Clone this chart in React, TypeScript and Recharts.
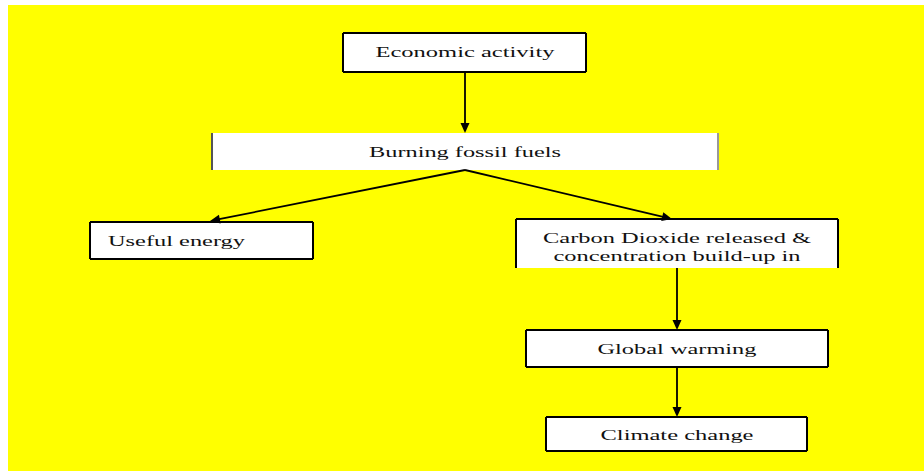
import React from 'react';
import {
  ScatterChart,
  Scatter,
  XAxis,
  YAxis,
  ReferenceArea,
  ReferenceLine,
} from 'recharts';

// flow nodes (page units, y grows downward)
const nodeNames = ['econ', 'burning', 'useful', 'carbon', 'global', 'climate'];
const nodeLeft = [343, 212, 90, 516, 526, 546];
const nodeRight = [586, 718, 313, 838, 828, 807];
const nodeTop = [33, 133, 222, 219, 330, 417];
const nodeBottom = [72, 170, 259, 268, 367, 451];
// which sides get a border line: t l r b
const nodeSides = ['tlrb', 'lr', 'tlrb', 'tlr', 'tlrb', 'tlrb'];

// text lines inside the boxes
const labelText = [
  'Economic activity',
  'Burning fossil fuels',
  'Useful energy',
  'Carbon Dioxide released &',
  'concentration build-up in',
  'Global warming',
  'Climate change',
];
const labelX = [465, 465, 108, 677, 677, 677, 677];
const labelY = [57, 157, 246, 243, 261, 354, 440];
const labelWidth = [179, 192, 137, 268, 247, 159, 153];
const labelAnchor = ['middle', 'middle', 'start', 'middle', 'middle', 'middle', 'middle'];

// arrows: from -> to (tip)
const arrowFromX = [465, 465, 465, 677, 677];
const arrowFromY = [72, 170, 170, 268, 367];
const arrowToX = [465, 210, 672, 677, 677];
const arrowToY = [133, 221, 219, 330, 417];

const HEAD = 10;

const labels = labelText.map((t, i) => ({
  x: labelX[i],
  y: labelY[i],
  text: t,
  len: labelWidth[i],
  anchor: labelAnchor[i],
}));

const arrows = arrowFromX.map((fx, i) => {
  const dx = arrowToX[i] - fx;
  const dy = arrowToY[i] - arrowFromY[i];
  const d = Math.sqrt(dx * dx + dy * dy);
  return {
    x1: fx,
    y1: arrowFromY[i],
    // shaft stops at the base of the head
    x2: arrowToX[i] - (dx / d) * (HEAD - 2),
    y2: arrowToY[i] - (dy / d) * (HEAD - 2),
    tip: { x: arrowToX[i], y: arrowToY[i], angle: (Math.atan2(dy, dx) * 180) / Math.PI },
  };
});

const sideColor = (name: string, side: string) => {
  if (name === 'burning') return side === 'l' ? '#555' : '#999';
  return '#000';
};

const SERIF = '"Liberation Serif", "Times New Roman", serif';

const LabelShape = (p: any) => {
  const d = p.payload;
  return (
    <text
      x={p.cx}
      y={p.cy}
      textAnchor={d.anchor}
      textLength={d.len}
      lengthAdjust="spacingAndGlyphs"
      style={{ fontFamily: SERIF, fontSize: 15 }}
      fill="#111"
    >
      {d.text}
    </text>
  );
};

const HeadShape = (p: any) => {
  const a = p.payload.angle;
  return (
    <polygon
      points={`0,0 ${-HEAD},${-4.5} ${-HEAD},4.5`}
      fill="#000"
      transform={`translate(${p.cx},${p.cy}) rotate(${a})`}
    />
  );
};

const App = () => {
  return (
    <div style={{ position: 'absolute', left: 0, top: 0, fontFamily: SERIF }}>
      <ScatterChart width={924} height={471} margin={{ top: 0, right: 0, bottom: 0, left: 0 }}>
        <XAxis type="number" dataKey="x" domain={[0, 924]} hide allowDataOverflow />
        <YAxis type="number" dataKey="y" domain={[0, 471]} reversed hide allowDataOverflow />

        {/* yellow page */}
        <ReferenceArea x1={8} x2={924} y1={5} y2={471} fill="#ffff00" fillOpacity={1} stroke="none" />

        {nodeNames.map((n, i) => (
          <ReferenceArea
            key={n}
            x1={nodeLeft[i]}
            x2={nodeRight[i]}
            y1={nodeTop[i]}
            y2={nodeBottom[i]}
            fill="#fff"
            fillOpacity={1}
            stroke="none"
          />
        ))}

        {nodeNames.map((n, i) =>
          nodeSides[i].split('').map((s) => {
            const seg =
              s === 't'
                ? [{ x: nodeLeft[i], y: nodeTop[i] }, { x: nodeRight[i], y: nodeTop[i] }]
                : s === 'b'
                ? [{ x: nodeLeft[i], y: nodeBottom[i] }, { x: nodeRight[i], y: nodeBottom[i] }]
                : s === 'l'
                ? [{ x: nodeLeft[i], y: nodeTop[i] }, { x: nodeLeft[i], y: nodeBottom[i] }]
                : [{ x: nodeRight[i], y: nodeTop[i] }, { x: nodeRight[i], y: nodeBottom[i] }];
            return (
              <ReferenceLine
                key={n + s}
                segment={seg as any}
                stroke={sideColor(n, s)}
                strokeWidth={2}
              />
            );
          })
        )}

        {arrows.map((a, i) => (
          <ReferenceLine
            key={'arr' + i}
            segment={[{ x: a.x1, y: a.y1 }, { x: a.x2, y: a.y2 }]}
            stroke="#000"
            strokeWidth={1.8}
          />
        ))}

        <Scatter
          data={arrows.map((a) => a.tip)}
          shape={HeadShape}
          isAnimationActive={false}
        />
        <Scatter data={labels} shape={LabelShape} isAnimationActive={false} />
      </ScatterChart>
    </div>
  );
};

export default App;
